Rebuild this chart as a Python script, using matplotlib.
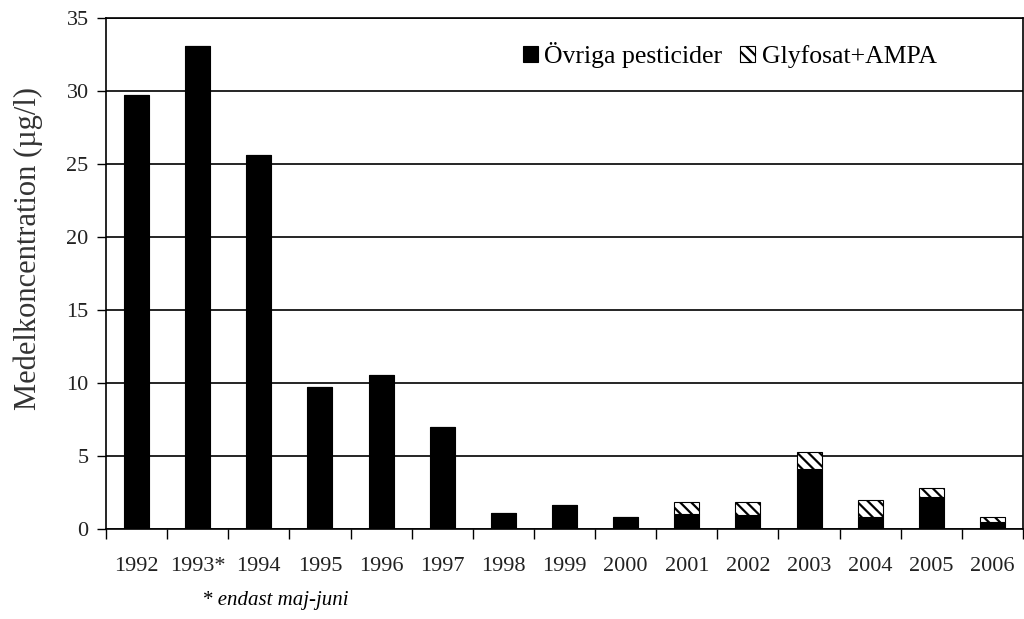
import matplotlib
matplotlib.use('Agg')
import matplotlib.pyplot as plt
import numpy as np

plt.rcParams['hatch.linewidth'] = 1.6

years = ['1992', '1993*', '1994', '1995', '1996', '1997', '1998', '1999',
         '2000', '2001', '2002', '2003', '2004', '2005', '2006']
ovriga = [29.75, 33.1, 25.6, 9.76, 10.55, 6.96, 1.09, 1.62,
          0.82, 1.02, 0.95, 4.08, 0.8, 2.16, 0.48]
glyfosat = [0, 0, 0, 0, 0, 0, 0, 0,
            0, 0.84, 0.91, 1.22, 1.22, 0.65, 0.36]

serif = 'Liberation Serif'

fig = plt.figure(figsize=(10.24, 6.19), dpi=100)
ax = fig.add_axes([106 / 1024, 1 - 529 / 619, 917 / 1024, 511 / 619])

x = np.arange(len(years))
w = 0.41
ax.bar(x, ovriga, width=w, color='black', edgecolor='black', linewidth=0.8,
       label='Övriga pesticider', zorder=3)
ax.bar(x, glyfosat, width=w, bottom=ovriga, color='white', edgecolor='black',
       hatch='\\\\\\', linewidth=0.8, label='Glyfosat+AMPA', zorder=3)

ax.set_xlim(-0.5, len(years) - 0.5)
ax.set_ylim(0, 35)
ax.set_yticks(range(0, 36, 5))
ax.set_xticks(x)
ax.set_xticklabels(years)
ax.set_xticks(np.arange(-0.5, len(years)), minor=True)
ax.tick_params(axis='x', which='major', length=0, pad=20)
ax.tick_params(axis='x', which='minor', length=7, width=1, direction='out')
ax.tick_params(axis='y', length=6.5, width=1, direction='out', pad=6)
for lab in ax.get_xticklabels() + ax.get_yticklabels():
    lab.set_fontfamily(serif)
    lab.set_fontsize(16)
    lab.set_color('#222222')

ax.yaxis.grid(True, color='black', linewidth=1.2, zorder=0)
ax.set_axisbelow(True)
for s in ['left', 'bottom', 'right', 'top']:
    ax.spines[s].set_linewidth(1.2)
    ax.spines[s].set_color('black')

fig.text(28 / 1024, 1 - 248 / 619, 'Medelkoncentration (µg/l)', rotation=90,
         fontfamily=serif, fontsize=22, color='#333333',
         ha='center', va='center')

ax.legend(loc='center right', bbox_to_anchor=(0.906, 0.928), ncol=2,
          frameon=False, prop={'family': serif, 'size': 18.5},
          borderpad=0, borderaxespad=0,
          handlelength=0.58, handleheight=0.58, handletextpad=0.25,
          columnspacing=0.7)

fig.text(202 / 1024, 1 - 601 / 619, '* endast maj-juni', fontfamily=serif,
         fontstyle='italic', fontsize=15, va='center', ha='left')

fig.savefig('out.png', dpi=100)
